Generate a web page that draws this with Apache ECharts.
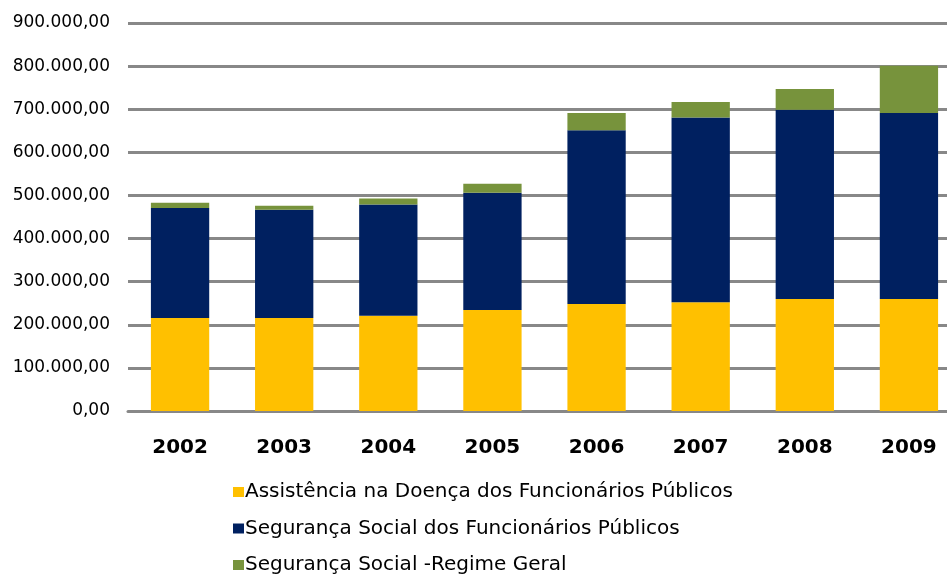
<!DOCTYPE html>
<html>
<head>
<meta charset="utf-8">
<script src="https://cdn.jsdelivr.net/npm/echarts@6/dist/echarts.min.js"></script>
<style>
  html, body { margin: 0; padding: 0; background: #fff; }
  #chart { width: 947px; height: 574px; }
</style>
</head>
<body>
<div id="chart"></div>
<script>
// Despesa por subsistema, 2002-2009
const years = ['2002', '2003', '2004', '2005', '2006', '2007', '2008', '2009'];
const assistenciaDoenca = [216000, 216000, 221000, 234000, 248000, 252000, 260000, 260000];
const segSocialFuncionarios = [255000, 251000, 258000, 272000, 403000, 429000, 439000, 431000];
const segSocialRegimeGeral = [12000, 9000, 14000, 21000, 40000, 36000, 48000, 110000];

const seriesNames = [
  'Assistência na Doença dos Funcionários Públicos',
  'Segurança Social dos Funcionários Públicos',
  'Segurança Social -Regime Geral'
];
const colors = ['#FFC000', '#002060', '#77933C'];

function fmt(v) {
  const s = Math.round(v).toString().replace(/\B(?=(\d{3})+(?!\d))/g, '.');
  return s + ',00';
}

const font = 'DejaVu Sans, Verdana, sans-serif';
const chart = echarts.init(document.getElementById('chart'));

const stackSeries = [assistenciaDoenca, segSocialFuncionarios, segSocialRegimeGeral].map((data, i) => ({
  name: seriesNames[i],
  type: 'bar',
  stack: 'total',
  data: data,
  barWidth: '56%',
  itemStyle: { color: colors[i] },
  emphasis: { disabled: true }
}));

chart.setOption({
  animation: false,
  textStyle: { fontFamily: font },
  grid: { left: 128, top: 23, right: -14, bottom: 163, containLabel: false, outerBoundsMode: 'none' },
  legend: {
    orient: 'vertical',
    left: 228,
    top: 477,
    height: 200,
    itemWidth: 11,
    itemHeight: 10,
    itemGap: 16.5,
    icon: 'rect',
    textStyle: { fontFamily: font, fontSize: 20, color: '#000', padding: [0, 0, 0, -4] },
    data: seriesNames
  },
  xAxis: {
    type: 'category',
    data: years,
    axisLine: { lineStyle: { color: '#888', width: 3 } },
    axisTick: { show: false },
    axisLabel: { fontFamily: font, fontSize: 20, fontWeight: 'bold', color: '#000', margin: 27 }
  },
  yAxis: {
    type: 'value',
    min: 0,
    max: 900000,
    interval: 100000,
    axisLine: { show: false },
    axisTick: { show: false },
    splitLine: { lineStyle: { color: '#888', width: 3 } },
    axisLabel: { fontFamily: font, fontSize: 17, color: '#000', margin: 18, formatter: fmt }
  },
  series: stackSeries
});
</script>
</body>
</html>
